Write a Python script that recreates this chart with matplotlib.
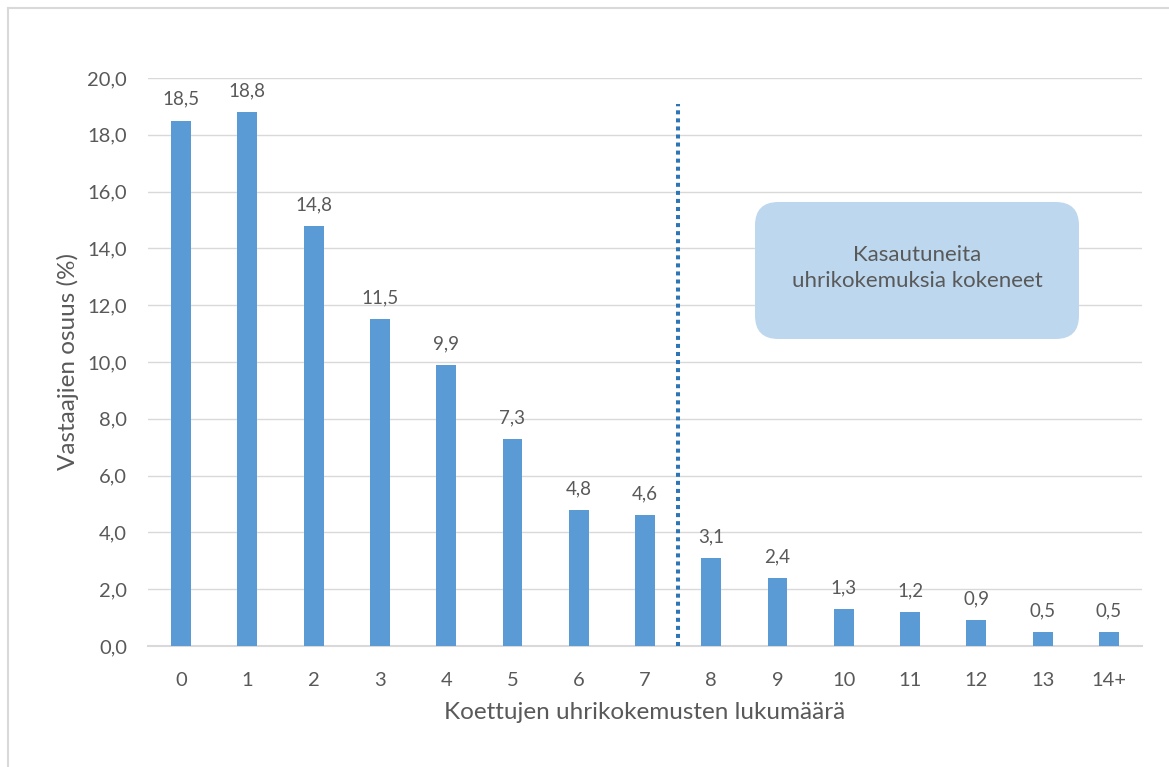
import matplotlib
matplotlib.use("Agg")
import matplotlib.pyplot as plt
from matplotlib.patches import FancyBboxPatch
from matplotlib.lines import Line2D

categories = ["0", "1", "2", "3", "4", "5", "6", "7", "8", "9", "10", "11", "12", "13", "14+"]
values = [18.5, 18.8, 14.8, 11.5, 9.9, 7.3, 4.8, 4.6, 3.1, 2.4, 1.3, 1.2, 0.9, 0.5, 0.5]
y_ticks = [0, 2, 4, 6, 8, 10, 12, 14, 16, 18, 20]
divider_x = 7.5
divider_top = 19.1

plt.rcParams['font.family'] = ['Lato', 'DejaVu Sans']
txt = '#595959'

fig = plt.figure(figsize=(11.69, 7.67), dpi=100)
ax = fig.add_axes([148/1169, 1-646/767, (1142-148)/1169, (646-78)/767])

x = list(range(len(categories)))
ax.bar(x, values, width=0.30, color='#5B9BD5', zorder=3)
for xi, v in zip(x, values):
    ax.text(xi, v + 0.45, f"{v:.1f}".replace('.', ','), ha='center', va='bottom',
            fontsize=13.5, color=txt)

ax.set_xlim(-0.5, len(categories) - 0.5)
ax.set_ylim(0, 20)
ax.set_yticks(y_ticks)
ax.set_yticklabels([f"{t:.1f}".replace('.', ',') for t in y_ticks])
ax.set_xticks(x)
ax.set_xticklabels(categories)
ax.tick_params(axis='both', length=0, labelsize=14.5, labelcolor=txt)
ax.tick_params(axis='x', pad=19)
ax.tick_params(axis='y', pad=15)
ax.grid(axis='y', color='#D9D9D9', linewidth=1, zorder=0)
for s in ['top', 'right', 'left']:
    ax.spines[s].set_visible(False)
ax.spines['bottom'].set_color('#D9D9D9')
ax.spines['bottom'].set_linewidth(1.5)

ax.set_ylabel("Vastaajien osuus (%)", fontsize=17.5, color=txt, labelpad=6)
ax.set_xlabel("Koettujen uhrikokemusten lukumäärä", fontsize=17.5, color=txt, labelpad=9)

ax.plot([divider_x, divider_x], [0, divider_top], color='#2E75B6', linewidth=2.9,
        linestyle=(0, (1, 1)), dash_capstyle='butt', zorder=4)

# rounded box in figure pixel coords
bx0, by0, bx1, by1 = 755, 202, 1079, 339
box = FancyBboxPatch((bx0/1169, 1-by1/767), (bx1-bx0)/1169, (by1-by0)/767,
                     boxstyle="round,pad=0,rounding_size=0.02",
                     transform=fig.transFigure, facecolor='#BDD7EE', edgecolor='none',
                     mutation_aspect=1169/767, zorder=5)
fig.patches.append(box)
fig.text((bx0+bx1)/2/1169, 1-(by0+by1)/2/767 + 0.003, "Kasautuneita\nuhrikokemuksia kokeneet",
         ha='center', va='center', fontsize=16, color=txt, linespacing=1.4, zorder=10)

# figure border (top and left only)
fig.lines.append(Line2D([8/1169, 1], [1-8/767, 1-8/767], transform=fig.transFigure,
                        color='#D9D9D9', linewidth=1.5))
fig.lines.append(Line2D([8/1169, 8/1169], [0, 1-8/767], transform=fig.transFigure,
                        color='#D9D9D9', linewidth=1.5))

fig.savefig("out.png", dpi=100, facecolor='white')
